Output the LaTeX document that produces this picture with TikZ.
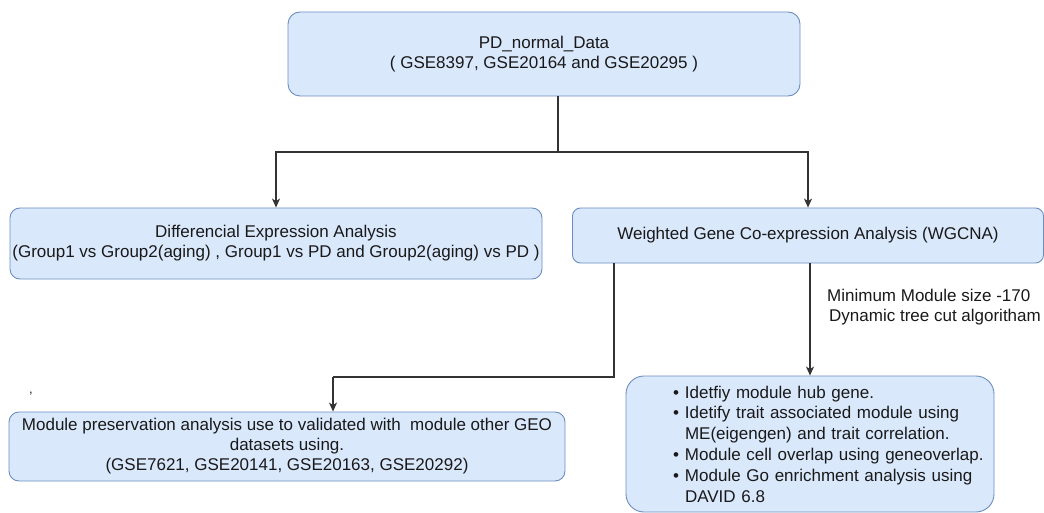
\documentclass[tikz,border=0pt]{standalone}
\usepackage{fontspec}
\setmainfont{Liberation Sans}
\usetikzlibrary{positioning,calc,arrows.meta}
\definecolor{boxfill}{HTML}{DAE8FC}
\definecolor{boxline}{HTML}{6C8EBF}
\definecolor{wire}{HTML}{333333}
\newcommand{\hubitem}[1]{\hspace*{47pt}\makebox[12pt][l]{\textbullet}#1}
\newcommand{\hubcont}[1]{\hspace*{59pt}#1}
\tikzset{
stage/.style={draw=boxline,fill=boxfill,line width=0.9pt,align=center,inner sep=0pt,text=black!90,font=\fontsize{17}{20}\selectfont},
hubbox/.style={stage,align=left,text width=368pt,minimum height=136pt,rounded corners=18pt,font=\fontsize{17}{20.8}\selectfont},
flowline/.style={line width=1.2pt,wire},
flowarrow/.style={-{Stealth[length=9pt,width=8pt,inset=2.5pt]},flowline},
note/.style={font=\fontsize{17}{20}\selectfont,align=left,inner sep=0pt,text=black!90}
}

\begin{document}
\begin{tikzpicture}[x=1pt,y=-1pt]
\useasboundingbox (0,0) rectangle (1044,513);
\node[stage,rounded corners=12pt,minimum width=512pt,minimum height=84pt] (data) at (544,54) {PD\_normal\_Data\\( GSE8397, GSE20164 and GSE20295 )};
\node[stage,rounded corners=10pt,minimum width=532pt,minimum height=71pt] (dea) at (276,243.5) {Differencial Expression Analysis\\(Group1 vs Group2(aging) , Group1 vs PD and Group2(aging) vs PD )};
\node[stage,rounded corners=8pt,minimum width=471pt,minimum height=55pt] (wgcna) at (808,235.5) {Weighted Gene Co-expression Analysis (WGCNA)};
\node[stage,rounded corners=10pt,minimum width=556pt,minimum height=69pt] (pres) at (287,446.5) {Module preservation analysis use to validated with\ \ module other GEO\\datasets using.\\(GSE7621, GSE20141, GSE20163, GSE20292)};
\node[hubbox] (hub) at (810,444) {\hubitem{Idetfiy module hub gene.}\\
\hubitem{Idetify trait associated module using}\\
\hubcont{ME(eigengen) and trait correlation.}\\
\hubitem{Module cell overlap using geneoverlap.}\\
\hubitem{Module Go enrichment analysis using}\\
\hubcont{DAVID 6.8}};
\node[note,anchor=west] (cutnote) at (827,307) {Minimum Module size -170\\\hspace*{2pt}Dynamic tree cut algoritham};
\node[note,font=\fontsize{13}{13}\selectfont] (tick) at (31,394) {,};
\coordinate (split) at (558,152);
\coordinate (turn) at (614,377);
\coordinate (drop) at (333,377);
\draw[flowline] (data.south -| split) -- (split);
\draw[flowarrow] (split) -| (dea.north);
\draw[flowarrow] (split) -| (wgcna.north);
\draw[flowline] (wgcna.south -| turn) -- (turn) -- (drop);
\draw[flowarrow] (drop) -- (drop |- pres.north);
\draw[flowarrow] (wgcna.south -| hub.north) -- (hub.north);
\end{tikzpicture}
\end{document}
